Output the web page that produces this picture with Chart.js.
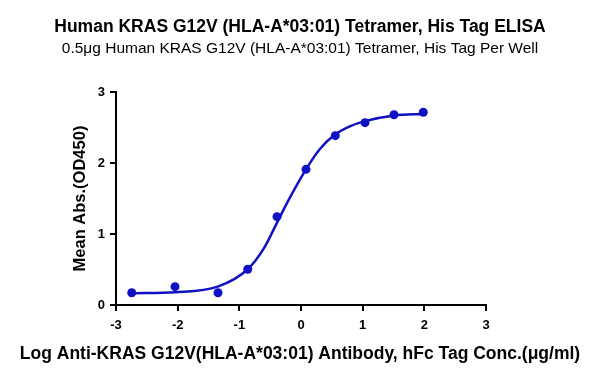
<!DOCTYPE html>
<html>
<head>
<meta charset="utf-8">
<script src="https://cdn.jsdelivr.net/npm/chart.js@4/dist/chart.umd.min.js"></script>
<style>
  html, body { margin: 0; padding: 0; background: #fff; }
  #wrap { width: 600px; height: 383px; }
</style>
</head>
<body>
<div id="wrap"><canvas id="c" width="600" height="383"></canvas></div>
<script>
// Measured points: log concentration vs mean OD450
const logConc = [-2.745, -2.043, -1.346, -0.864, -0.389, 0.081, 0.556, 1.038, 1.508, 1.983];
const meanOD  = [0.173, 0.258, 0.173, 0.503, 1.244, 1.911, 2.385, 2.568, 2.680, 2.714];

// Fitted curve
const curveX = [-2.745, -2.043, -1.351, -0.864, -0.600, -0.394, -0.200, 0.081, 0.300, 0.551, 0.800, 1.038, 1.513, 1.983];
const curveY = [0.165, 0.180, 0.258, 0.503, 0.800, 1.150, 1.480, 1.910, 2.190, 2.400, 2.520, 2.590, 2.670, 2.690];

const xTicks = [-3, -2, -1, 0, 1, 2, 3];
const yTicks = [0, 1, 2, 3];

const titleText = 'Human KRAS G12V (HLA-A*03:01) Tetramer, His Tag ELISA';
const subtitleText = '0.5μg Human KRAS G12V (HLA-A*03:01) Tetramer, His Tag Per Well';
const xTitle = 'Log Anti-KRAS G12V(HLA-A*03:01) Antibody, hFc Tag Conc.(μg/ml)';
const yTitle = 'Mean Abs.(OD450)';

const BLUE = '#1111c4';
const FAM = '"Liberation Sans", Arial, Helvetica, sans-serif';

const pts = logConc.map((x, i) => ({x, y: meanOD[i]}));
const curve = curveX.map((x, i) => ({x, y: curveY[i]}));

// Draws the x-axis title centred on the canvas without width squeezing
const xTitlePlugin = {
  id: 'xTitlePlugin',
  afterDraw(chart) {
    const ctx = chart.ctx;
    ctx.save();
    ctx.font = 'bold 17.5px ' + FAM;
    ctx.fillStyle = '#000';
    ctx.textAlign = 'center';
    ctx.textBaseline = 'middle';
    ctx.fillText(xTitle, chart.width / 2, 354);
    ctx.restore();
  }
};

new Chart(document.getElementById('c'), {
  type: 'scatter',
  data: {
    datasets: [
      {
        data: curve,
        showLine: true,
        borderColor: BLUE,
        borderWidth: 2.5,
        pointRadius: 0,
        cubicInterpolationMode: 'monotone',
        fill: false
      },
      {
        data: pts,
        showLine: false,
        backgroundColor: BLUE,
        borderColor: BLUE,
        pointRadius: 4.5,
        pointBorderWidth: 0
      }
    ]
  },
  plugins: [xTitlePlugin],
  options: {
    responsive: false,
    animation: false,
    devicePixelRatio: 1,
    layout: { padding: { left: 0, right: 0, top: 0, bottom: 0 } },
    plugins: {
      legend: { display: false },
      tooltip: { enabled: false },
      title: {
        display: true,
        text: titleText,
        color: '#000',
        font: { family: FAM, size: 17.5, weight: 'bold', lineHeight: 1.0 },
        padding: { top: 18.75, bottom: 5 }
      },
      subtitle: {
        display: true,
        text: subtitleText,
        color: '#000',
        font: { family: FAM, size: 15.5, weight: 'normal', lineHeight: 1.0 },
        padding: { top: 0, bottom: 35.25 }
      }
    },
    scales: {
      x: {
        type: 'linear',
        min: -3, max: 3,
        afterBuildTicks: s => { s.ticks = xTicks.map(v => ({value: v})); },
        afterFit: s => { s.height = 78; },
        ticks: {
          color: '#000',
          padding: 7,
          font: { family: FAM, size: 13, weight: 'bold' }
        },
        grid: { display: true, drawOnChartArea: false, drawTicks: true, tickLength: 6, color: '#000', lineWidth: 2 },
        border: { display: true, color: '#000', width: 2 },
        title: { display: false }
      },
      y: {
        type: 'linear',
        position: 'left',
        min: 0, max: 3,
        afterBuildTicks: s => { s.ticks = yTicks.map(v => ({value: v})); },
        afterFit: s => { s.width = 116; },
        ticks: {
          color: '#000',
          padding: 5,
          font: { family: FAM, size: 13, weight: 'bold' }
        },
        grid: { display: true, drawOnChartArea: false, drawTicks: true, tickLength: 6, color: '#000', lineWidth: 2 },
        border: { display: true, color: '#000', width: 2 },
        title: {
          display: true,
          text: yTitle,
          color: '#000',
          font: { family: FAM, size: 16.5, weight: 'bold' },
          padding: { top: 71, bottom: 0 }
        }
      },
      yRight: {
        type: 'linear',
        position: 'right',
        display: true,
        min: 0, max: 3,
        afterFit: s => { s.width = 114; },
        ticks: { display: false },
        grid: { display: false, drawTicks: false },
        border: { display: false }
      }
    }
  }
});
</script>
</body>
</html>
